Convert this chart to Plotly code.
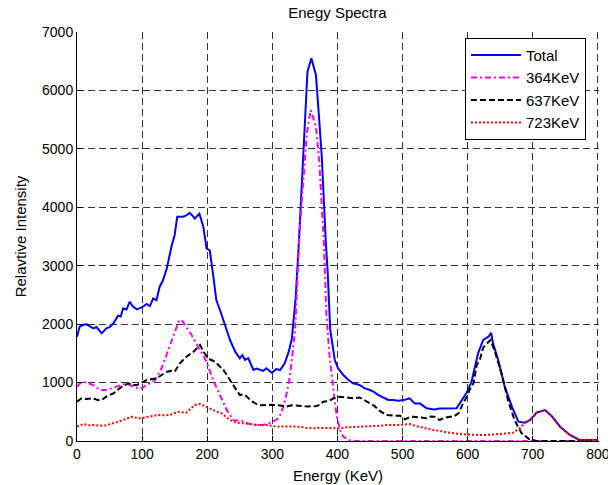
import plotly.graph_objects as go

# ---- data ----
total_x = [0, 4, 10, 15, 20, 25, 30, 35, 38, 45, 50, 56, 63, 67, 71, 76, 81, 86, 92, 100,
           107, 112, 117, 122, 127, 132, 138, 145, 150, 154, 163, 168, 173, 178, 181, 188,
           194, 199, 204, 209, 214, 220, 225, 230, 235, 243, 250, 254, 258, 263, 271, 276,
           281, 286, 291, 299, 306, 312, 319, 325, 330, 336, 341, 346, 350, 354, 360, 367,
           372, 376, 382, 385, 389, 396, 401, 409, 417, 424, 434, 442, 450, 456, 463, 470,
           478, 486, 493, 502, 511, 519, 527, 537, 549, 557, 567, 583, 598, 606, 616, 624,
           632, 636, 639, 647, 657, 668, 678, 688, 696, 706, 719, 729, 742, 757, 772, 785, 800]
total_y = [1785, 1956, 1990, 1997, 1960, 1928, 1950, 1880, 1843, 1930, 1950, 2014, 2145, 2130,
           2271, 2250, 2384, 2300, 2253, 2290, 2345, 2310, 2442, 2410, 2641, 2750, 2955, 3326,
           3526, 3839, 3839, 3860, 3907, 3850, 3810, 3890, 3668, 3298, 3260, 2850, 2413, 2230,
           2071, 1900, 1729, 1529, 1414, 1470, 1390, 1420, 1215, 1240, 1215, 1200, 1244, 1169,
           1230, 1215, 1330, 1520, 1750, 2470, 3440, 4581, 5437, 6320, 6550, 6264, 5500, 4866,
           3440, 2900, 1900, 1386, 1244, 1130, 1044, 987, 958, 900, 873, 840, 787, 750, 702,
           700, 690, 700, 731, 640, 640, 559, 540, 555, 560, 559, 816, 1015, 1501, 1729, 1785,
           1854, 1672, 1386, 930, 587, 331, 314, 359, 485, 530, 428, 245, 103, 17, 15, 15]

k364_x = [0, 5, 10, 18, 25, 35, 45, 53, 61, 70, 76, 83, 89, 97, 107, 115, 120, 130, 140, 148,
          157, 162, 166, 176, 189, 199, 209, 220, 230, 240, 255, 263, 271, 286, 301, 308, 312,
          317, 321, 327, 335, 342, 347, 353, 359, 367, 372, 376, 379, 383, 388, 394, 399, 404,
          409, 419, 430, 500, 600, 700, 800]
k364_y = [930, 990, 1015, 980, 958, 873, 873, 900, 930, 960, 987, 950, 918, 890, 958, 1000, 1044,
          1244, 1557, 1785, 2071, 2050, 1985, 1814, 1557, 1358, 1044, 759, 530, 359, 340, 300,
          274, 274, 330, 380, 445, 587, 760, 1100, 1900, 3611, 4296, 5266, 5665, 5380, 4800,
          4010, 3440, 2185, 1443, 873, 416, 188, 74, 10, 0, 0, 0, 0, 0]

k637_x = [0, 7, 15, 25, 32, 38, 45, 56, 62, 69, 79, 86, 92, 100, 107, 115, 122, 130, 138, 145,
          150, 158, 168, 179, 185, 189, 196, 201, 212, 218, 225, 235, 243, 250, 256, 261, 268,
          276, 284, 291, 299, 307, 315, 322, 330, 337, 345, 353, 360, 368, 373, 378, 386, 394,
          404, 414, 424, 434, 442, 450, 457, 463, 470, 476, 486, 496, 504, 511, 517, 527, 537,
          543, 549, 557, 565, 572, 578, 586, 593, 599, 604, 609, 614, 619, 624, 629, 635, 642,
          652, 662, 672, 683, 695, 706, 750, 800]
k637_y = [673, 731, 720, 731, 700, 702, 760, 816, 870, 930, 987, 960, 958, 1000, 1044, 1060, 1073,
          1130, 1187, 1200, 1187, 1329, 1443, 1529, 1600, 1643, 1500, 1414, 1358, 1290, 1215, 1044,
          900, 787, 800, 759, 680, 633, 610, 616, 620, 616, 600, 590, 610, 600, 600, 590, 595, 599,
          620, 673, 680, 731, 759, 745, 731, 745, 700, 645, 600, 530, 480, 445, 435, 433, 371, 410,
          416, 400, 390, 420, 416, 359, 400, 416, 416, 474, 645, 760, 900, 990, 1300, 1400, 1600,
          1660, 1729, 1529, 1158, 702, 359, 131, 30, 0, 0, 0]

k723_x = [0, 10, 18, 25, 33, 41, 48, 56, 63, 71, 78, 84, 90, 97, 105, 112, 118, 125, 134, 143,
          150, 155, 162, 168, 175, 181, 189, 194, 199, 205, 209, 215, 222, 228, 235, 245, 253, 261,
          268, 276, 284, 291, 299, 307, 317, 327, 335, 342, 352, 363, 372, 383, 392, 401, 409, 414,
          424, 434, 445, 457, 466, 475, 486, 496, 504, 511, 519, 527, 537, 547, 557, 568, 578, 588,
          598, 608, 620, 629, 640, 650, 660, 670, 680, 688, 696, 706, 719, 729, 742, 757, 772, 785,
          800]
k723_y = [245, 290, 270, 274, 265, 260, 280, 302, 330, 359, 390, 416, 400, 388, 405, 416, 430, 445,
          440, 445, 480, 502, 490, 485, 560, 616, 633, 610, 587, 560, 530, 500, 474, 420, 359, 314,
          310, 302, 290, 274, 280, 274, 260, 245, 250, 245, 240, 245, 225, 217, 225, 228, 220, 217,
          235, 234, 240, 245, 240, 245, 260, 274, 270, 274, 282, 290, 260, 245, 215, 188, 175, 147,
          130, 120, 110, 103, 103, 103, 110, 120, 131, 143, 217, 314, 359, 485, 530, 428, 245, 103,
          17, 15, 15]

series_names = ["Total", "364KeV", "637KeV", "723KeV"]
x_ticks = [0, 100, 200, 300, 400, 500, 600, 700, 800]
y_ticks = [0, 1000, 2000, 3000, 4000, 5000, 6000, 7000]

FONT = "Liberation Sans, Arial, Helvetica, sans-serif"

fig = go.Figure()
fig.add_trace(go.Scatter(x=total_x, y=total_y, mode="lines", name=series_names[0],
                         line=dict(color="#0000FF", width=2)))
fig.add_trace(go.Scatter(x=k364_x, y=k364_y, mode="lines", name=series_names[1],
                         line=dict(color="#FF00FF", width=2, dash="6px,3px,2px,3px")))
fig.add_trace(go.Scatter(x=k637_x, y=k637_y, mode="lines", name=series_names[2],
                         line=dict(color="#000000", width=2, dash="6px,3px")))
fig.add_trace(go.Scatter(x=k723_x, y=k723_y, mode="lines", name=series_names[3],
                         line=dict(color="#FF0000", width=2, dash="2px,2px")))

axis_common = dict(
    showgrid=True, gridcolor="#333333", gridwidth=1, griddash="7px,4px",
    showline=True, linecolor="black", linewidth=1,
    ticks="inside", ticklen=5, tickcolor="black", tickwidth=1,
    zeroline=False, automargin=False, ticklabeloverflow="allow",
    tickfont=dict(size=14, color="black", family=FONT),
)

fig.update_xaxes(range=[0, 801.8], tickvals=x_ticks, ticktext=[str(v) for v in x_ticks],
                 title=dict(text="Energy (KeV)", font=dict(size=15, color="black", family=FONT),
                            standoff=9),
                 **axis_common)
fig.update_yaxes(range=[0, 7000.5], tickvals=y_ticks, ticktext=[str(v) for v in y_ticks],
                 title=dict(text="Relavtive Intensity", font=dict(size=15, color="black", family=FONT),
                            standoff=11),
                 **axis_common)

fig.update_layout(
    width=608, height=485,
    margin=dict(l=77, r=9, t=32, b=44),
    paper_bgcolor="white", plot_bgcolor="white",
    font=dict(family=FONT, color="black"),
    title=dict(text="Enegy Spectra", x=0.555, xanchor="center", y=0.973, yanchor="middle",
               yref="container", font=dict(size=15, color="black", family=FONT)),
    legend=dict(x=0.975, y=0.986, xanchor="right", yanchor="top",
                bgcolor="white", bordercolor="black", borderwidth=1, itemwidth=50,
                font=dict(size=15, color="black", family=FONT)),
    showlegend=True,
)

fig.write_html("out.html")
